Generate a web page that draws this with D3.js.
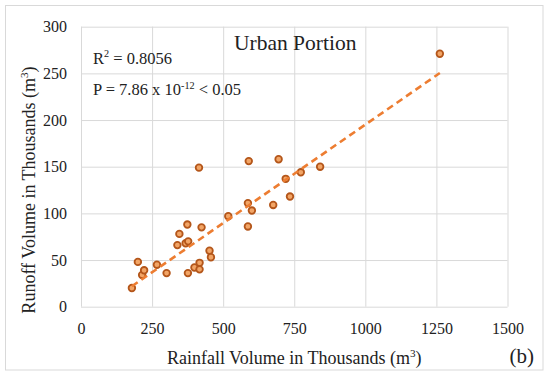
<!DOCTYPE html>
<html>
<head>
<meta charset="utf-8">
<script src="https://cdn.jsdelivr.net/npm/d3@7"></script>
<style>
  html, body { margin: 0; padding: 0; background: #fff; }
  svg { display: block; }
  text { font-family: "Liberation Serif", "Times New Roman", serif; fill: #222; }
</style>
</head>
<body>
<svg id="chart" width="550" height="382"></svg>
<script>
// ---- Data ----
const rainfall = [179, 200, 215, 222, 267, 301, 339, 346, 368, 377, 374, 376, 399, 417, 417, 415, 424, 452, 457, 518, 587, 587, 590, 601, 676, 695, 720, 735, 773, 841, 1262];
const runoff   = [20, 48, 34, 39, 45, 36, 66, 78, 68, 70, 88, 36, 42, 47, 40, 149, 85, 60, 53, 97, 111, 86, 156, 103, 109, 158, 137, 118, 144, 150, 271];
const xTicks = [0, 250, 500, 750, 1000, 1250, 1500];
const yTicks = [0, 50, 100, 150, 200, 250, 300];
const trendSlope = 0.211;
const trendIntercept = -15.9;
const titleText = "Urban Portion";
const r2Text = ["R", "2", " = 0.8056"];
const pText = ["P = 7.86 x 10", "-12", " < 0.05"];
const xTitle = ["Rainfall Volume  in Thousands (m", "3", ")"];
const yTitle = ["Runoff Volume  in Thousands (m", "3", ")"];
const panelLabel = "(b)";

(function () {
const svg = d3.select("#chart");
const pl = 81, pr = 507.5, pt = 26.7, pb = 306.7;

svg.append("rect").attr("x", 5.5).attr("y", 5.5).attr("width", 537.5).attr("height", 364.5)
  .attr("fill", "#fff").attr("stroke", "#D9D9D9").attr("stroke-width", 1);

const x = d3.scaleLinear().domain([0, 1500]).range([pl, pr]);
const y = d3.scaleLinear().domain([0, 300]).range([pb, pt]);

const gx = svg.append("g").attr("transform", `translate(0,${pb})`)
  .call(d3.axisBottom(x).tickValues(xTicks).tickSize(-(pb - pt)).tickPadding(16).tickFormat(d3.format("d")));
const gy = svg.append("g").attr("transform", `translate(${pl},0)`)
  .call(d3.axisLeft(y).tickValues(yTicks).tickSize(-(pr - pl)).tickPadding(14).tickFormat(d3.format("d")));
[gx, gy].forEach(g => {
  g.select(".domain").remove();
  g.selectAll(".tick line").attr("stroke", "#D9D9D9").attr("stroke-width", 1);
  g.selectAll(".tick text").attr("font-size", 16).attr("fill", "#222")
    .attr("font-family", "'Liberation Serif', 'Times New Roman', serif");
});

const xmin = d3.min(rainfall), xmax = d3.max(rainfall);
const trend = [xmin, xmax].map(v => [v, trendSlope * v + trendIntercept]);

svg.append("g").selectAll("circle").data(rainfall.map((v, i) => [v, runoff[i]]))
  .join("circle")
  .attr("cx", d => x(d[0])).attr("cy", d => y(d[1])).attr("r", 3.3)
  .attr("fill", "#F2A566").attr("stroke", "#B4561A").attr("stroke-width", 1.8);

svg.append("path").datum(trend)
  .attr("d", d3.line().x(d => x(d[0])).y(d => y(d[1])))
  .attr("fill", "none").attr("stroke", "#ED7D31").attr("stroke-width", 2.6)
  .attr("stroke-dasharray", "7,4.5");

function supText(t, parts, size) {
  t.append("tspan").text(parts[0]);
  t.append("tspan").text(parts[1]).attr("font-size", size * 0.62).attr("dy", -size * 0.38);
  t.append("tspan").text(parts[2]).attr("dy", size * 0.38);
  return t;
}

svg.append("text").attr("x", 234).attr("y", 50).attr("font-size", 21.5).text(titleText);

supText(svg.append("text").attr("x", 93).attr("y", 63.5).attr("font-size", 16.5), r2Text, 16.5);
supText(svg.append("text").attr("x", 93).attr("y", 95).attr("font-size", 16.5), pText, 16.5);

supText(svg.append("text").attr("x", (pl + pr) / 2).attr("y", 364).attr("text-anchor", "middle").attr("font-size", 18), xTitle, 18);
supText(svg.append("text").attr("transform", `translate(35,190) rotate(-90)`).attr("text-anchor", "middle").attr("font-size", 18), yTitle, 18);

svg.append("text").attr("x", 534).attr("y", 363).attr("text-anchor", "end").attr("font-size", 21).text(panelLabel);
})();
</script>
</body>
</html>
